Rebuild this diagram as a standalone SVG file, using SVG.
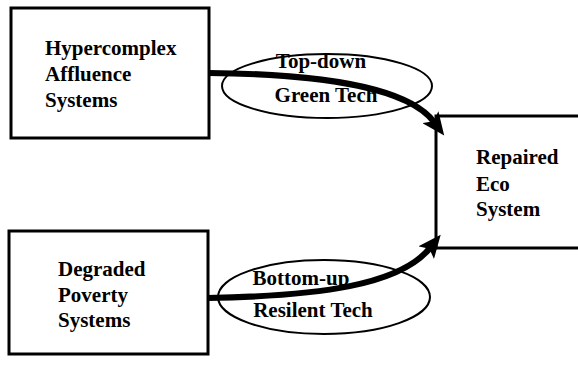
<svg xmlns="http://www.w3.org/2000/svg" width="578" height="366" viewBox="0 0 578 366">
<defs>
<style>
.box{fill:none;stroke:#000;stroke-width:3}
.ell{fill:none;stroke:#000;stroke-width:2}
.t{font-family:"Liberation Serif","Times New Roman",serif;font-weight:bold;font-size:21px;fill:#000}
.c{text-anchor:middle}
.arr{fill:none;stroke:#000;stroke-width:6}
</style>
<marker id="ah" markerUnits="userSpaceOnUse" markerWidth="24" markerHeight="20" refX="6" refY="10" orient="auto">
<path d="M0,0 L23,10 L0,20 L5,10 z" fill="#000"/>
</marker>
</defs>
<rect width="578" height="366" fill="#fff"/>
<g id="hypercomplex">
<rect class="box" x="11" y="8" width="198" height="130"/>
<text class="t" x="45" y="55">Hypercomplex</text>
<text class="t" x="45" y="81">Affluence</text>
<text class="t" x="45" y="107">Systems</text>
</g>
<g id="degraded">
<rect class="box" x="9" y="231" width="199" height="123"/>
<text class="t" x="58" y="276">Degraded</text>
<text class="t" x="58" y="302">Poverty</text>
<text class="t" x="58" y="327">Systems</text>
</g>
<g id="repaired">
<path class="box" d="M578,116 L436,116 L436,248 L578,248"/>
<text class="t" x="476" y="164">Repaired</text>
<text class="t" x="476" y="191">Eco</text>
<text class="t" x="476" y="216">System</text>
</g>
<g id="topdown">
<ellipse class="ell" cx="327" cy="86" rx="105" ry="32"/>
<text class="t c" x="321" y="68">Top-down</text>
<text class="t c" x="326" y="102">Green Tech</text>
</g>
<g id="bottomup">
<ellipse class="ell" cx="324" cy="297" rx="106" ry="37"/>
<text class="t c" x="301" y="285">Bottom-up</text>
<text class="t c" x="313" y="317">Resilent Tech</text>
</g>
<g id="connectors">
<path class="arr" d="M209,73 C330,74 410,90 434,122" marker-end="url(#ah)"/>
<path class="arr" d="M207,298 C320,296 400,285 430,248" marker-end="url(#ah)"/>
</g>
</svg>
